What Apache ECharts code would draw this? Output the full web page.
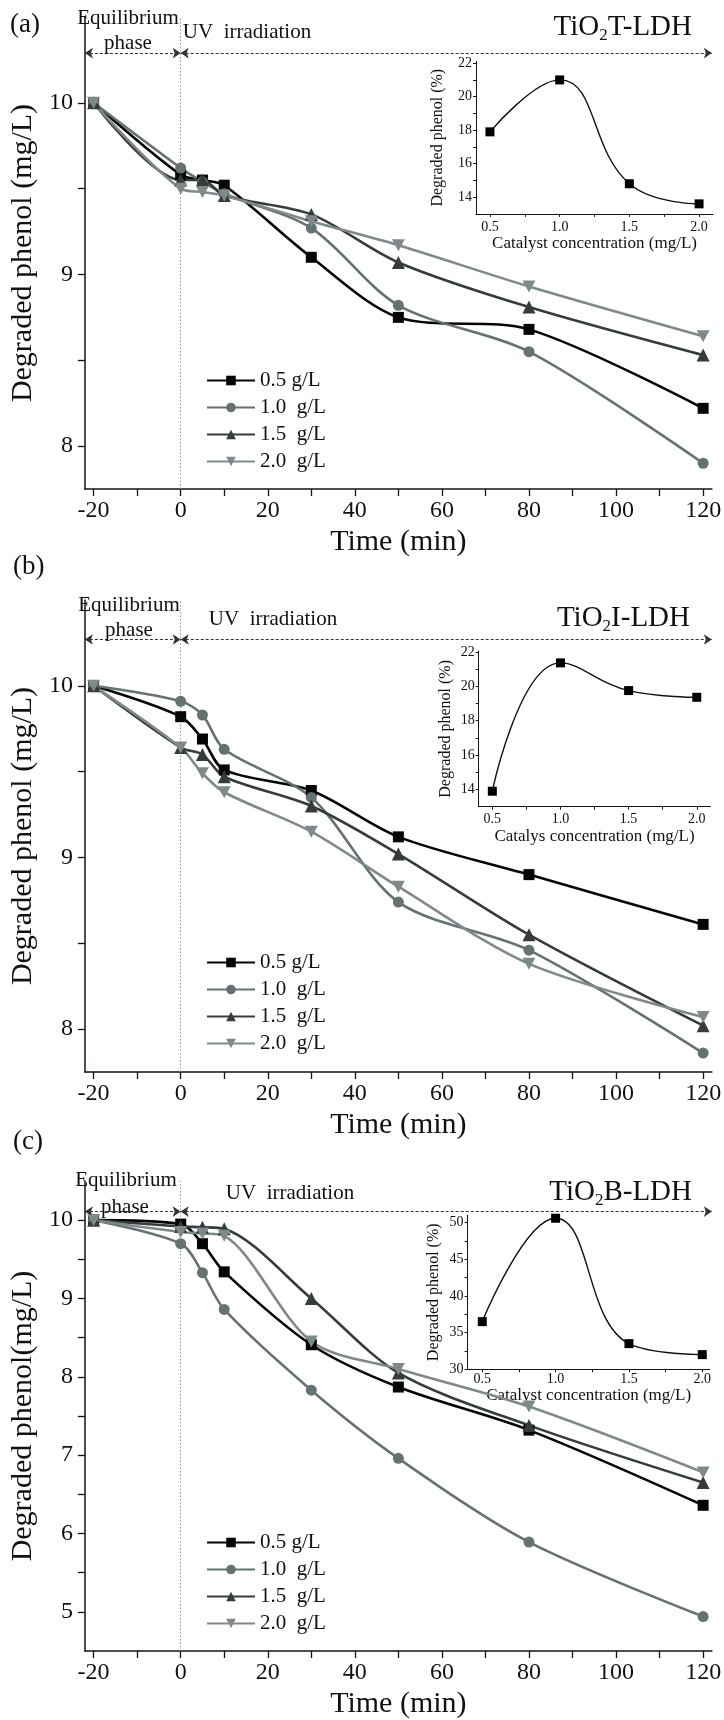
<!DOCTYPE html>
<html><head><meta charset="utf-8">
<script src="https://cdn.jsdelivr.net/npm/echarts@6/dist/echarts.min.js"></script>
<style>html,body{margin:0;padding:0;background:#fff}#c{width:724px;height:1720px}</style>
</head><body><div id="c"></div><script>
// ---------- data ----------
const timeMin = [-20, 0, 5, 10, 30, 50, 80, 120];
const seriesNames = ['0.5 g/L', '1.0  g/L', '1.5  g/L', '2.0  g/L'];

const a05 = [10, 9.58, 9.55, 9.52, 9.10, 8.75, 8.68, 8.22];
const a10 = [10, 9.62, 9.54, 9.47, 9.27, 8.82, 8.55, 7.90];
const a15 = [10, 9.55, 9.55, 9.46, 9.35, 9.07, 8.81, 8.53];
const a20 = [10, 9.50, 9.48, 9.46, 9.31, 9.17, 8.93, 8.64];

const b05 = [10, 9.82, 9.69, 9.51, 9.39, 9.12, 8.90, 8.61];
const b10 = [10, 9.91, 9.83, 9.63, 9.35, 8.74, 8.46, 7.86];
const b15 = [10, 9.64, 9.60, 9.47, 9.30, 9.02, 8.55, 8.02];
const b20 = [10, 9.64, 9.49, 9.38, 9.15, 8.83, 8.38, 8.07];

const c05 = [10, 9.95, 9.70, 9.34, 8.41, 7.87, 7.32, 6.36];
const c10 = [10, 9.70, 9.33, 8.86, 7.83, 6.96, 5.89, 4.94];
const c15 = [10, 9.92, 9.91, 9.89, 9.00, 8.05, 7.38, 6.65];
const c20 = [10, 9.85, 9.83, 9.80, 8.45, 8.10, 7.62, 6.78];

const catalystConc = [0.5, 1.0, 1.5, 2.0];
const insetA = [17.9, 21.0, 14.8, 13.6];
const insetB = [13.9, 21.36, 19.75, 19.36];
const insetC = [36.5, 50.6, 33.5, 32.0];

const xTickLabels = [-20, 0, 20, 40, 60, 80, 100, 120];
const xTickMarks = [-20, -10, 0, 10, 20, 30, 40, 50, 60, 70, 80, 90, 100, 110, 120];
const yTickLabelsAB = [8, 9, 10];
const yTickMarksAB = [8, 8.5, 9, 9.5, 10];
const yTickLabelsC = [5, 6, 7, 8, 9, 10];
const yTickMarksC = [5, 5.5, 6, 6.5, 7, 7.5, 8, 8.5, 9, 9.5, 10];
const insetXLabels = [0.5, 1.0, 1.5, 2.0];
const insetXMarks = [0.5, 0.75, 1.0, 1.25, 1.5, 1.75, 2.0];
const insetYLabelsAB = [14, 16, 18, 20, 22];
const insetYMarksAB = [14, 15, 16, 17, 18, 19, 20, 21, 22];
const insetYLabelsC = [30, 35, 40, 45, 50];
const insetYMarksC = [30, 32.5, 35, 37.5, 40, 42.5, 45, 47.5, 50];

// ---------- styles ----------
const FONT = 'Liberation Serif';
const INK = '#111';
const colors = ['#050505', '#667171', '#363c3c', '#808989'];
const symbols = ['rect', 'circle', 'triangle', 'path://M0,0 L10,0 L5,9 Z'];
const symSizes = [11, 11, 13, [13, 12]];

const panels = [
  { data: [a05, a10, a15, a20], yMin: 7.75, yMax: 10.5, yl: yTickLabelsAB, yt: yTickMarksAB, yName: 'Degraded phenol (mg/L)', arrowY: 10.29,
    main: { left: 75, top: 17, width: 638, height: 472 },
    inset: { left: 476, top: 61.5, width: 237, height: 152.4 }, iMin: 13, iMax: 22.1, iData: insetA, iyl: insetYLabelsAB, iyt: insetYMarksAB,
    iXName: 'Catalyst concentration (mg/L)', iXGap: 21, iYGap: 30, legendTop: 365 },
  { data: [b05, b10, b15, b20], yMin: 7.75, yMax: 10.5, yl: yTickLabelsAB, yt: yTickMarksAB, yName: 'Degraded phenol (mg/L)', arrowY: 10.27,
    main: { left: 75, top: 600, width: 638, height: 472 },
    inset: { left: 478.7, top: 651, width: 231.7, height: 155.7 }, iMin: 13, iMax: 22.05, iData: insetB, iyl: insetYLabelsAB, iyt: insetYMarksAB,
    iXName: 'Catalys concentration (mg/L)', iXGap: 20, iYGap: 25, legendTop: 947 },
  { data: [c05, c10, c15, c20], yMin: 4.5, yMax: 10.5, yl: yTickLabelsC, yt: yTickMarksC, yName: 'Degraded phenol(mg/L)', arrowY: 10.11,
    main: { left: 75, top: 1181, width: 638, height: 471 },
    inset: { left: 467.6, top: 1215.3, width: 242, height: 154 }, iMin: 30, iMax: 51, iData: insetC, iyl: insetYLabelsC, iyt: insetYMarksC,
    iXName: 'Catalyst concentration (mg/L)', iXGap: 12, iYGap: 26, legendTop: 1527 }
];

const grid = [], xAxis = [], yAxis = [], series = [], legend = [];
const axisLine = { show: true, onZero: false, lineStyle: { color: '#1a1212', width: 1.5 } };
const insetAxisLine = { show: true, onZero: false, lineStyle: { color: '#1a1212', width: 1 } };

panels.forEach((p, i) => {
  grid.push(p.main);
  xAxis.push({
    type: 'value', gridIndex: i, min: -22, max: 122,
    name: 'Time (min)', nameLocation: 'middle', nameGap: 38,
    nameTextStyle: { fontFamily: FONT, fontSize: 30, color: INK },
    axisLine, splitLine: { show: false },
    axisTick: { show: true, length: 7, customValues: xTickMarks, lineStyle: { color: '#1a1212', width: 1.3 } },
    axisLabel: { customValues: xTickLabels, fontFamily: FONT, fontSize: 24, color: INK, margin: 10 }
  });
  yAxis.push({
    type: 'value', gridIndex: i, min: p.yMin, max: p.yMax,
    name: p.yName, nameLocation: 'middle', nameGap: 29, nameRotate: 90,
    nameTextStyle: { fontFamily: FONT, fontSize: 30, color: INK },
    axisLine, splitLine: { show: false },
    axisTick: { show: true, length: 7, customValues: p.yt, lineStyle: { color: '#1a1212', width: 1.3 } },
    axisLabel: { customValues: p.yl, fontFamily: FONT, fontSize: 24, color: INK, margin: 12 }
  });
  p.data.forEach((arr, k) => {
    const s = {
      type: 'line', name: seriesNames[k], xAxisIndex: i, yAxisIndex: i,
      data: timeMin.map((t, j) => [t, arr[j]]),
      smooth: 0.3, symbol: symbols[k], symbolSize: symSizes[k], showSymbol: true,
      lineStyle: { color: colors[k], width: 2.6 }, itemStyle: { color: colors[k] },
      z: 3
    };
    if (k === 0) {
      // phase arrows
      s.markLine = {
        silent: true, symbol: ['arrow', 'arrow'], symbolSize: 8, label: { show: false }, animation: false, z: 1,
        lineStyle: { color: '#333', type: [3, 2], width: 1.2 },
        data: [
          [{ coord: [-22, p.arrowY] }, { coord: [0, p.arrowY] }],
          [{ coord: [0, p.arrowY] }, { coord: [122, p.arrowY] }]
        ]
      };
    }
    if (k === 1) {
      // start of UV irradiation (t = 0)
      s.markLine = {
        silent: true, symbol: ['none', 'none'], label: { show: false }, animation: false, z: 1,
        lineStyle: { color: '#8795b8', type: [1.5, 2], width: 1 },
        data: [{ xAxis: 0 }]
      };
    }
    series.push(s);
  });
  legend.push({
    data: seriesNames, orient: 'vertical', left: 201, top: p.legendTop,
    itemWidth: 48, itemHeight: 12, itemGap: 6, selectedMode: false,
    textStyle: { fontFamily: FONT, fontSize: 21, lineHeight: 20, color: INK }
  });
});

panels.forEach((p, i) => {
  const gi = 3 + i;
  grid.push(p.inset);
  xAxis.push({
    type: 'value', gridIndex: gi, min: 0.4, max: (i === 2 ? 2.05 : 2.1),
    name: p.iXName, nameLocation: 'middle', nameGap: p.iXGap,
    nameTextStyle: { fontFamily: FONT, fontSize: 17, color: INK },
    axisLine: insetAxisLine, splitLine: { show: false },
    axisTick: { show: true, length: 3, customValues: insetXMarks, lineStyle: { color: '#1a1212' } },
    axisLabel: { customValues: insetXLabels, formatter: v => Number(v).toFixed(1), fontFamily: FONT, fontSize: 14, color: INK, margin: (i === 2 ? 3 : 6) }
  });
  yAxis.push({
    type: 'value', gridIndex: gi, min: p.iMin, max: p.iMax,
    name: 'Degraded phenol (%)', nameLocation: 'middle', nameGap: p.iYGap, nameRotate: 90,
    nameTextStyle: { fontFamily: FONT, fontSize: 16, color: INK },
    axisLine: insetAxisLine, splitLine: { show: false },
    axisTick: { show: true, length: 3, customValues: p.iyt, lineStyle: { color: '#1a1212' } },
    axisLabel: { customValues: p.iyl, fontFamily: FONT, fontSize: 14, color: INK, margin: 4 }
  });
  series.push({
    type: 'line', name: 'inset' + i, xAxisIndex: gi, yAxisIndex: gi,
    data: catalystConc.map((c, j) => [c, p.iData[j]]),
    smooth: 0.45, symbol: 'rect', symbolSize: 9,
    lineStyle: { color: '#111', width: 1.4 }, itemStyle: { color: '#000' }, z: 4
  });
});

function txt(x, y, text, size, align) {
  return { type: 'text', x, y, z: 10,
    style: { text, fill: INK, font: size + 'px "' + FONT + '"', align: align || 'center', verticalAlign: 'middle' } };
}
function titleTxt(x, y, text) {
  return { type: 'text', x, y, z: 10, style: {
    text, fill: INK, fontFamily: FONT, fontSize: 29, lineHeight: 35, align: 'right', verticalAlign: 'middle',
    rich: { s: { fontFamily: FONT, fontSize: 17, lineHeight: 17, padding: [18, 0, 0, 0], fill: INK } } } };
}

const graphic = [
  txt(10, 25, '(a)', 27, 'left'),
  titleTxt(692, 27, 'TiO{s|2}T-LDH'),
  txt(128, 18, 'Equilibrium', 21), txt(128, 43, 'phase', 21), txt(247, 32, 'UV  irradiation', 21),

  txt(13, 567, '(b)', 27, 'left'),
  titleTxt(690, 618, 'TiO{s|2}I-LDH'),
  txt(129, 605, 'Equilibrium', 21), txt(129, 630, 'phase', 21), txt(273, 619, 'UV  irradiation', 21),

  txt(13, 1142, '(c)', 27, 'left'),
  titleTxt(692, 1192, 'TiO{s|2}B-LDH'),
  txt(126, 1180, 'Equilibrium', 21), txt(125, 1207, 'phase', 21), txt(290, 1193, 'UV  irradiation', 21)
];

const chart = echarts.init(document.getElementById('c'), null, { renderer: 'canvas' });
chart.setOption({
  animation: false, backgroundColor: '#fff',
  grid, xAxis, yAxis, series, legend, graphic
});
</script></body></html>
